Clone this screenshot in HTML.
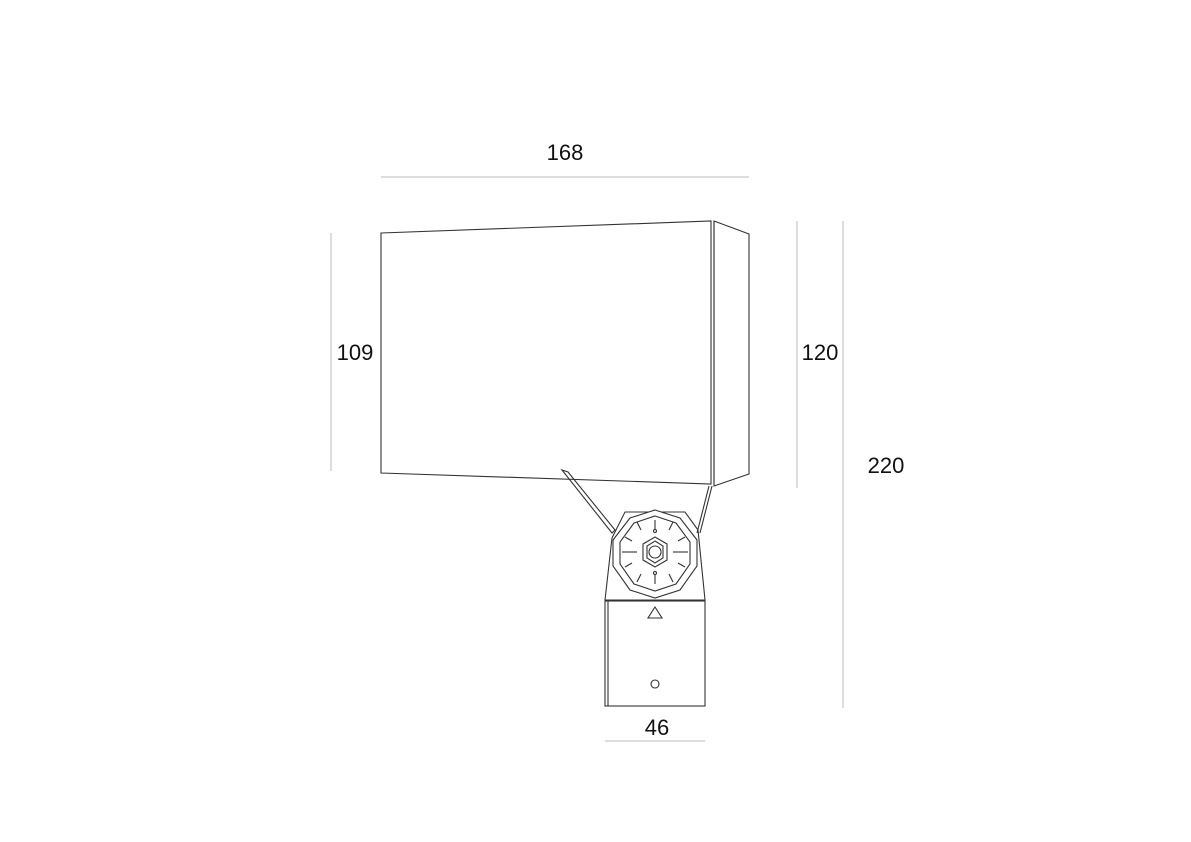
<!DOCTYPE html>
<html><head><style>body{margin:0;background:#fff}svg{display:block}text{font-family:"Liberation Sans",sans-serif;font-size:22px;fill:#111}</style></head><body>
<svg width="1191" height="842" viewBox="0 0 1191 842" xmlns="http://www.w3.org/2000/svg">
<g stroke="#bbb" stroke-width="1">
<line x1="381" y1="177" x2="749" y2="177"/>
<line x1="331" y1="233" x2="331" y2="471"/>
<line x1="797" y1="221" x2="797" y2="488"/>
<line x1="843" y1="221" x2="843" y2="708"/>
<line x1="605" y1="741" x2="705" y2="741"/>
</g>
<text x="565" y="160" text-anchor="middle">168</text>
<text x="355" y="360" text-anchor="middle">109</text>
<text x="820" y="360" text-anchor="middle">120</text>
<text x="886" y="473" text-anchor="middle">220</text>
<text x="657" y="735" text-anchor="middle">46</text>
<g fill="none" stroke="#333" stroke-width="1.1">
<polygon points="381,233 711,221 711,484 381,473"/>
<line x1="714" y1="221" x2="714" y2="484"/>
<polygon points="714,221 749,234 749,474 714,486"/>
<polygon points="562,470 612,533 615,530 568,472"/>
<line x1="709" y1="486" x2="697" y2="533"/>
<line x1="712" y1="486" x2="700" y2="533"/>
<polygon points="605,600 612,538 625,512 685,512 698,530 705,600"/>
<rect x="605" y="601" width="100" height="105"/>
<line x1="608" y1="601" x2="608" y2="706"/>
<polygon points="655,607 662,618 648,618"/>
<circle cx="655" cy="684" r="4"/>
<polygon points="655,510 680,518 697,540 697,566 680,590 655,598 630,590 613,566 613,540 630,518" fill="#fff"/>
<polygon points="655,516 676,523 690,542 690,564 676,584 655,591 634,584 620,564 620,542 634,523"/>
<polygon points="655,537 667,544 667,560 655,567 643,560 643,544"/>
<polygon points="655,541 663,546 663,558 655,563 647,558 647,546"/>
<circle cx="655" cy="552" r="6"/>
<line x1="655" y1="520" x2="655" y2="530"/><line x1="655" y1="574" x2="655" y2="584"/>
<line x1="622" y1="552" x2="637" y2="552"/><line x1="673" y1="552" x2="688" y2="552"/>
<line x1="637" y1="522" x2="641" y2="530"/><line x1="673" y1="522" x2="669" y2="530"/>
<line x1="637" y1="582" x2="641" y2="574"/><line x1="673" y1="582" x2="669" y2="574"/>
<line x1="625" y1="537" x2="632" y2="541"/><line x1="685" y1="537" x2="678" y2="541"/>
<line x1="625" y1="567" x2="632" y2="563"/><line x1="685" y1="567" x2="678" y2="563"/>
<circle cx="655" cy="531" r="1.5"/><circle cx="655" cy="573" r="1.5"/>
</g>
</svg>
</body></html>
